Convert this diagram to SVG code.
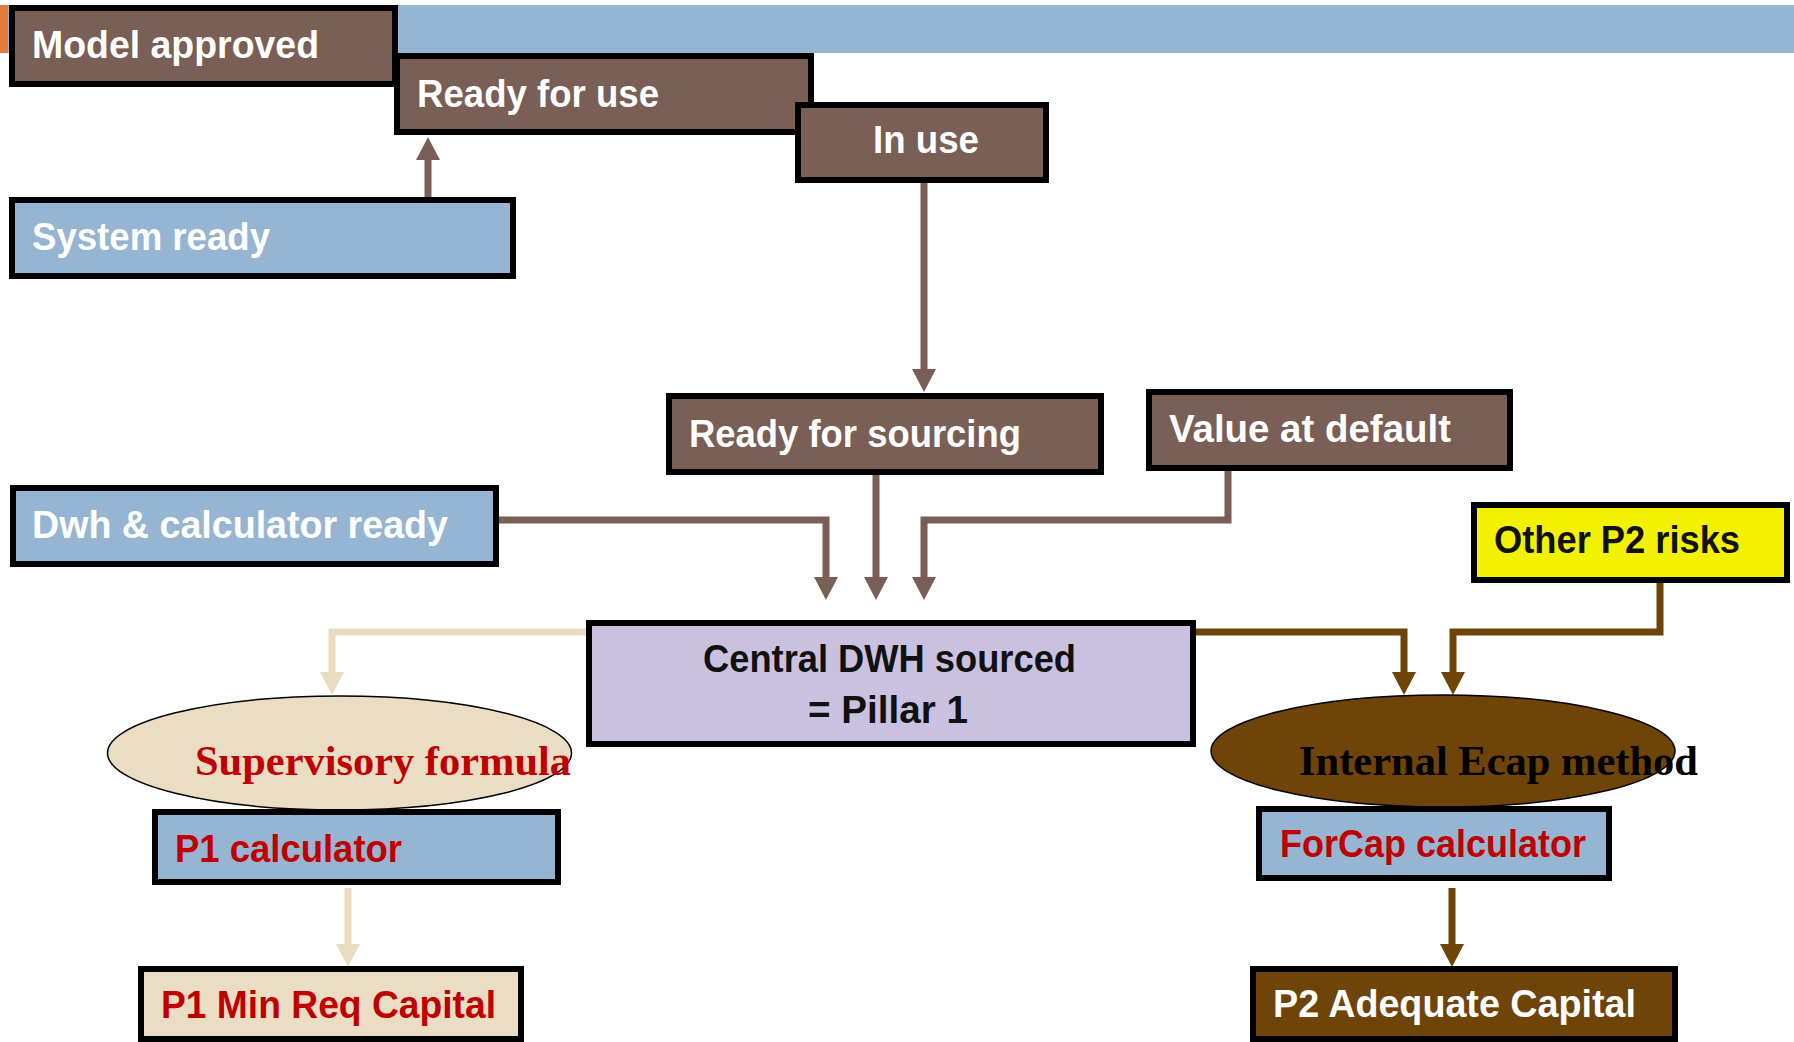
<svg xmlns="http://www.w3.org/2000/svg" width="1794" height="1042" viewBox="0 0 1794 1042">
<style>
.box{stroke:#000;stroke-width:6}
.br{fill:#795F55}
.bl{fill:#95B5D3}
.lav{fill:#C9C1DF}
.yel{fill:#F2F200}
.bei{fill:#EADDC3}
.dbr{fill:#6E4408}
.t{font-family:"Liberation Sans",Arial,sans-serif;font-weight:bold;font-size:38px;fill:#fff}
.tk{fill:#111}
.tr{fill:#C00000}
.tt{font-family:"Liberation Serif","Times New Roman",serif;font-weight:bold;font-size:42px}
.c{fill:none;stroke-width:7;stroke-linejoin:miter;stroke-linecap:butt}
.cg{stroke:#795F55}
.cb{stroke:#EADCC2}
.cd{stroke:#6E4408}
</style>
<defs>
<marker id="ag" markerUnits="userSpaceOnUse" markerWidth="24" markerHeight="24" viewBox="0 0 23 24" refX="0" refY="12" orient="auto"><path d="M0,0 L23,12 L0,24 z" fill="#795F55"/></marker>
<marker id="ab" markerUnits="userSpaceOnUse" markerWidth="24" markerHeight="24" viewBox="0 0 23 24" refX="0" refY="12" orient="auto"><path d="M0,0 L23,12 L0,24 z" fill="#EADCC2"/></marker>
<marker id="ad" markerUnits="userSpaceOnUse" markerWidth="24" markerHeight="24" viewBox="0 0 23 24" refX="0" refY="12" orient="auto"><path d="M0,0 L23,12 L0,24 z" fill="#6E4408"/></marker>
</defs>
<rect x="0" y="0" width="1794" height="1042" fill="#fff"/>
<rect x="8" y="5" width="1786" height="48" fill="#95B5D3"/>
<rect x="0" y="5" width="8" height="48" fill="#E07B39"/>

<g id="connectors">
<path class="c cg" d="M428,197 V160" marker-end="url(#ag)"/>
<path class="c cg" d="M924,183 V369" marker-end="url(#ag)"/>
<path class="c cg" d="M499,520 H826 V577" marker-end="url(#ag)"/>
<path class="c cg" d="M876,475 V577" marker-end="url(#ag)"/>
<path class="c cg" d="M1228,471 V520 H924 V577" marker-end="url(#ag)"/>
<path class="c cb" d="M586,632 H332 V672" marker-end="url(#ab)"/>
<path class="c cb" d="M348,888 V944" marker-end="url(#ab)"/>
<path class="c cd" d="M1196,632 H1404 V672" marker-end="url(#ad)"/>
<path class="c cd" d="M1660,583 V632 H1453 V672" marker-end="url(#ad)"/>
<path class="c cd" d="M1452,888 V944" marker-end="url(#ad)"/>
</g>

<g id="model-approved">
<rect class="box br" x="12" y="8" width="383" height="76"/>
<text class="t" x="32" y="58" textLength="287" lengthAdjust="spacingAndGlyphs">Model approved</text>
</g>
<g id="ready-for-use">
<rect class="box br" x="397" y="56" width="414" height="76"/>
<text class="t" x="417" y="107" textLength="242" lengthAdjust="spacingAndGlyphs">Ready for use</text>
</g>
<g id="in-use">
<rect class="box br" x="798" y="105" width="248" height="75"/>
<text class="t" x="873" y="153" textLength="106" lengthAdjust="spacingAndGlyphs">In use</text>
</g>
<g id="system-ready">
<rect class="box bl" x="12" y="200" width="501" height="76"/>
<text class="t" x="32" y="250" textLength="238" lengthAdjust="spacingAndGlyphs">System ready</text>
</g>
<g id="ready-for-sourcing">
<rect class="box br" x="669" y="396" width="432" height="76"/>
<text class="t" x="689" y="447" textLength="332" lengthAdjust="spacingAndGlyphs">Ready for sourcing</text>
</g>
<g id="value-at-default">
<rect class="box br" x="1149" y="392" width="361" height="76"/>
<text class="t" x="1169" y="442" textLength="282" lengthAdjust="spacingAndGlyphs">Value at default</text>
</g>
<g id="dwh-calculator-ready">
<rect class="box bl" x="13" y="488" width="483" height="76"/>
<text class="t" x="32" y="538" font-size="36" textLength="416" lengthAdjust="spacingAndGlyphs">Dwh &amp; calculator ready</text>
</g>
<g id="other-p2-risks">
<rect class="box yel" x="1474" y="505" width="313" height="75"/>
<text class="t tk" x="1494" y="553" textLength="246" lengthAdjust="spacingAndGlyphs">Other P2 risks</text>
</g>
<g id="central-dwh">
<rect class="box lav" x="589" y="623" width="604" height="121"/>
<text class="t tk" x="703" y="672" font-size="33" textLength="373" lengthAdjust="spacingAndGlyphs">Central DWH sourced</text>
<text class="t tk" x="808" y="723" font-size="33" textLength="160" lengthAdjust="spacingAndGlyphs">= Pillar 1</text>
</g>
<g id="supervisory-formula">
<ellipse cx="339.5" cy="753" rx="232" ry="57" fill="#EADDC3" stroke="#000" stroke-width="1.5"/>
<text class="tt tr" x="195" y="775" textLength="376" lengthAdjust="spacingAndGlyphs">Supervisory formula</text>
</g>
<g id="p1-calculator">
<rect class="box bl" x="155" y="812" width="403" height="70"/>
<text class="t tr" x="175" y="862" textLength="227" lengthAdjust="spacingAndGlyphs">P1 calculator</text>
</g>
<g id="p1-min-req-capital">
<rect class="box bei" x="141" y="969" width="380" height="70"/>
<text class="t tr" x="161" y="1018" textLength="335" lengthAdjust="spacingAndGlyphs">P1 Min Req Capital</text>
</g>
<g id="internal-ecap-method">
<ellipse cx="1443" cy="751" rx="232" ry="56" fill="#6E4408" stroke="#000" stroke-width="1.5"/>
<text class="tt" fill="#000" x="1299" y="775" textLength="399" lengthAdjust="spacingAndGlyphs">Internal Ecap method</text>
</g>
<g id="forcap-calculator">
<rect class="box bl" x="1259" y="809" width="350" height="69"/>
<text class="t tr" x="1280" y="857" textLength="306" lengthAdjust="spacingAndGlyphs">ForCap calculator</text>
</g>
<g id="p2-adequate-capital">
<rect class="box dbr" x="1253" y="969" width="422" height="70"/>
<text class="t" x="1273" y="1017" textLength="363" lengthAdjust="spacingAndGlyphs">P2 Adequate Capital</text>
</g>
</svg>
